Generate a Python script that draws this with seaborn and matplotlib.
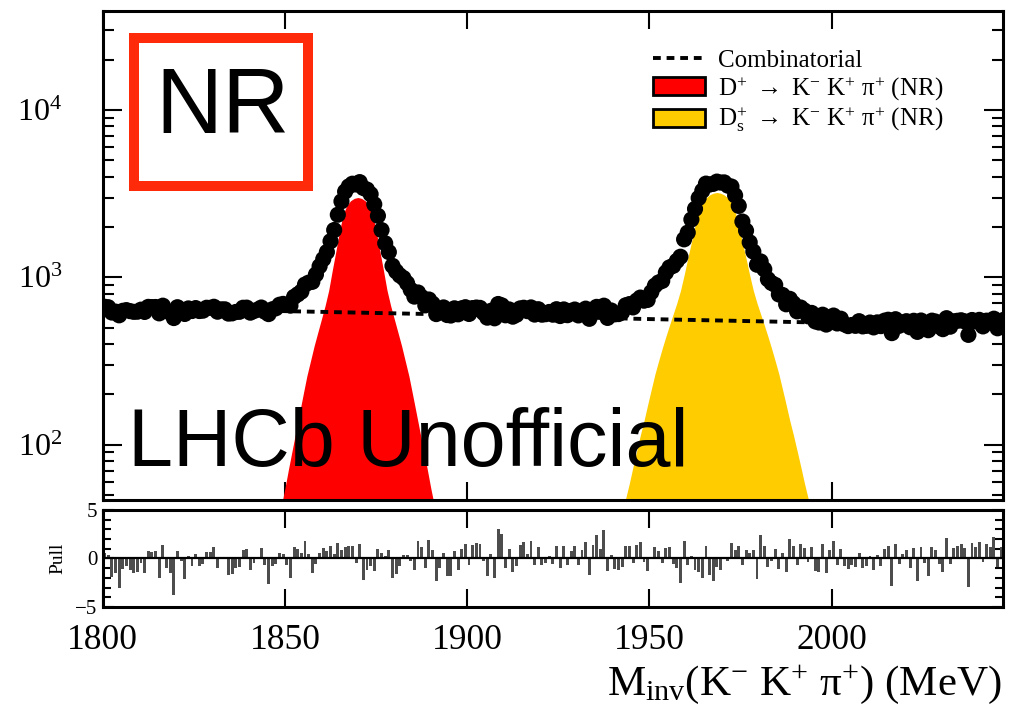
import numpy as np
import pandas as pd
import matplotlib
matplotlib.use('Agg')
import matplotlib.pyplot as plt
import seaborn as sns
from matplotlib.patches import Rectangle, Patch
from matplotlib.lines import Line2D
from matplotlib.ticker import FixedLocator, LogLocator, NullFormatter, MultipleLocator

# --- data (1 MeV bins, 1800-2047 MeV) ---
bin_centres = np.arange(1800.5, 2047.6, 1.0)

candidates = [
    667, 663, 616, 624, 593, 631, 637, 628, 622, 623,
    641, 621, 666, 664, 665, 609, 677, 628, 618, 571,
    663, 641, 604, 652, 629, 655, 629, 632, 658, 657,
    667, 623, 644, 644, 607, 609, 621, 622, 658, 659,
    615, 629, 642, 660, 623, 603, 644, 653, 686, 694,
    684, 677, 764, 791, 822, 906, 930, 940, 1040, 1165,
    1285, 1417, 1644, 1918, 2368, 2846, 3255, 3495, 3628, 3590,
    3709, 3419, 3349, 3143, 2733, 2333, 1917, 1598, 1415, 1172,
    1085, 1027, 990, 923, 843, 767, 812, 762, 680, 737,
    696, 603, 627, 661, 595, 591, 653, 601, 653, 663,
    604, 655, 660, 657, 613, 574, 631, 569, 693, 680,
    593, 643, 582, 597, 652, 658, 628, 661, 599, 645,
    598, 602, 621, 598, 645, 587, 643, 594, 630, 642,
    592, 630, 650, 565, 642, 666, 630, 677, 572, 634,
    601, 603, 618, 681, 692, 661, 726, 757, 725, 733,
    815, 892, 932, 952, 1068, 1147, 1171, 1253, 1328, 1687,
    1851, 2216, 2566, 2980, 3294, 3633, 3587, 3621, 3735, 3684,
    3695, 3533, 3490, 3089, 2673, 2155, 1901, 1619, 1426, 1189,
    1245, 1118, 974, 925, 901, 790, 785, 690, 744, 699,
    626, 660, 634, 585, 613, 545, 537, 598, 522, 574,
    591, 530, 566, 523, 511, 519, 513, 547, 509, 513,
    537, 502, 538, 511, 551, 558, 464, 562, 513, 537,
    547, 503, 550, 472, 552, 513, 483, 551, 544, 508,
    490, 570, 507, 546, 550, 554, 545, 453, 556, 545,
    557, 509, 551, 544, 566, 496, 543, 561,
]

pulls = [
    0.6, 0.4, -1.9, -1.5, -3.0, -1.1, -0.8, -1.2, -1.5, -1.4,
    -0.5, -1.5, 0.8, 0.7, 0.8, -2.0, 1.4, -1.0, -1.5, -3.8,
    0.8, -0.3, -2.1, 0.3, -0.8, 0.5, -0.8, -0.6, 0.7, 0.7,
    1.2, -1.0, 0.1, 0.1, -1.7, -1.6, -1.0, -0.9, 0.9, 1.0,
    -1.2, -0.5, 0.2, 1.1, -0.7, -2.6, -0.8, -0.6, 0.6, 0.5,
    -0.7, -2.0, 1.2, 1.0, 0.6, 1.8, 0.5, -1.5, -0.6, 0.6,
    1.1, 0.8, 1.3, 0.5, 1.6, 0.9, 1.2, 1.3, 1.3, -0.5,
    1.5, -2.2, -1.2, -0.8, -1.3, 1.0, 0.6, 0.3, 0.9, -2.0,
    -1.6, -0.8, 0.4, 0.4, -0.3, -1.2, 1.8, 1.2, -1.0, 1.9,
    0.9, -2.3, -1.0, 0.6, -1.8, -1.8, 0.8, -1.2, 1.0, 1.5,
    -0.7, 1.4, 1.6, 1.5, -0.3, -1.8, 0.5, -2.0, 3.0, 2.5,
    -1.0, 1.0, -1.4, -0.8, 1.4, 1.7, 0.5, 1.8, -0.7, 1.2,
    -0.7, -0.5, 0.3, -0.6, 1.3, -1.0, 1.3, -0.7, 0.8, 1.3,
    -0.7, 0.9, 1.7, -1.7, 1.4, 2.4, 1.0, 2.9, -1.3, 0.4,
    -1.1, -1.2, -0.9, 1.3, 1.3, -0.5, 1.4, 1.7, -0.4, -1.3,
    0.2, 1.2, 0.8, -0.5, 1.1, 1.2, -0.6, -1.0, -2.5, 1.8,
    -0.7, 0.3, -1.2, -1.4, -2.0, 1.3, -1.7, -2.3, -0.9, -1.2,
    0.2, -0.3, 1.6, 0.9, 1.3, -0.7, 0.9, 0.6, 0.9, -2.1,
    2.4, 1.3, -0.9, -0.3, 1.0, -1.1, 0.6, -1.4, 2.0, 1.3,
    -0.7, 1.5, 1.1, -0.4, 1.2, -1.3, -1.4, 1.5, -1.5, 0.9,
    1.8, -0.7, 1.0, -0.8, -1.1, -0.7, -0.9, 0.6, -1.0, -0.8,
    0.3, -1.2, 0.4, -0.8, 1.0, 1.3, -2.8, 1.5, -0.6, 0.5,
    0.9, -1.0, 1.1, -2.3, 1.2, -0.5, -1.8, 1.2, 0.9, -0.6,
    -1.4, 2.1, -0.6, 1.1, 1.3, 1.5, 1.1, -2.9, 1.6, 1.2,
    1.7, -0.4, 1.5, 1.2, 2.2, -0.9, 1.2, 2.0,
]

# combinatorial background (dashed line)
comb_mass = [1800, 1850, 1900, 1950, 2000, 2047]
comb_yield = [662, 628, 597, 563, 535, 505]

# D+ -> K- K+ pi+ (NR) component
dplus_mass = np.arange(1846.0, 1894.1, 1.0)
dplus_curve = [
    20, 26, 33, 43, 55, 72, 93, 120, 155, 200, 257, 316, 389, 468, 562, 676,
    836, 1107, 1445, 1905, 2400, 2690, 2870, 2965, 3000, 2965, 2870, 2690,
    2400, 1905, 1445, 1107, 836, 676, 562, 468, 389, 316, 257, 200, 155, 120,
    93, 72, 55, 43, 33, 26, 20,
]

# Ds+ -> K- K+ pi+ (NR) component
ds_mass = np.arange(1939.5, 1997.6, 1.0)
ds_curve = [
    20, 25, 31, 38, 48, 59, 74, 92, 114, 139, 173, 214, 264, 316, 376, 443,
    518, 603, 701, 832, 1030, 1297, 1620, 2040, 2470, 2825, 2980, 3110, 3185,
    3215, 3185, 3110, 2980, 2825, 2470, 2040, 1620, 1297, 1030, 832, 701, 603,
    518, 443, 376, 316, 264, 214, 173, 139, 114, 92, 74, 59, 48, 38, 31, 25, 20,
]

df = pd.DataFrame({'mass': bin_centres, 'candidates': candidates})
pf = pd.DataFrame({'mass': bin_centres, 'pull': pulls})

sns.set_style('ticks')
plt.rcParams['font.family'] = ['Liberation Serif', 'DejaVu Serif']
plt.rcParams['mathtext.fontset'] = 'custom'
plt.rcParams['mathtext.rm'] = 'Liberation Serif'
plt.rcParams['mathtext.it'] = 'Liberation Serif:italic'
plt.rcParams['mathtext.bf'] = 'Liberation Serif:bold'
plt.rcParams['mathtext.default'] = 'regular'
for key in ['text.color', 'axes.labelcolor', 'xtick.color', 'ytick.color']:
    plt.rcParams[key] = 'black'

fig = plt.figure(figsize=(10.15, 7.12), dpi=100)
ax = fig.add_axes([0.1012, 0.2978, 0.887, 0.6868])
axp = fig.add_axes([0.1012, 0.1475, 0.887, 0.1362])

ax.fill_between(dplus_mass, dplus_curve, 1, color='#ff0000', lw=0, zorder=1)
ax.fill_between(ds_mass, ds_curve, 1, color='#ffcc00', lw=0, zorder=1)
ax.plot(comb_mass, comb_yield, color='black', ls=(0, (2, 1.5)), lw=2.8, zorder=2)
sns.scatterplot(data=df, x='mass', y='candidates', color='black', s=135,
                edgecolor='none', ax=ax, zorder=3, legend=False)
ax.set_yscale('log')
ax.set_xlim(1800, 2047)
ax.set_ylim(46.7, 39100)
ax.set_xlabel('')
ax.set_ylabel('')

sns.barplot(data=pf, x='mass', y='pull', native_scale=True, width=0.8,
            color='#4d4d4d', saturation=1, errorbar=None, linewidth=0, ax=axp)
axp.axhline(0, color='black', lw=1.6, zorder=5)
axp.set_xlim(1800, 2047)
axp.set_ylim(-5, 5)
axp.set_xlabel('')
axp.set_ylabel('Pull', fontsize=14, labelpad=6)

for a in (ax, axp):
    for s in a.spines.values():
        s.set_linewidth(2.2)
        s.set_color('black')
    a.xaxis.set_major_locator(FixedLocator([1800, 1850, 1900, 1950, 2000]))
    a.tick_params(which='both', direction='in', top=True, right=True,
                  width=1.5, color='black')
    a.tick_params(axis='x', which='major', length=13)

ax.tick_params(labelbottom=False)
ax.yaxis.set_major_locator(LogLocator(base=10))
ax.yaxis.set_minor_locator(LogLocator(base=10, subs=np.arange(2, 10)))
ax.yaxis.set_minor_formatter(NullFormatter())
ax.tick_params(axis='y', which='major', length=14, labelsize=23, pad=29)
ax.tick_params(axis='y', which='minor', length=8)

axp.yaxis.set_major_locator(FixedLocator([-5, 0, 5]))
axp.yaxis.set_minor_locator(MultipleLocator(1))
axp.tick_params(axis='y', which='major', length=8, labelsize=15, pad=4)
axp.tick_params(axis='y', which='minor', length=6)
axp.tick_params(axis='x', labelsize=25.5, pad=12)

# NR box
ax.add_patch(Rectangle((0.0348, 0.6421), 0.1932, 0.3027, transform=ax.transAxes,
                       fill=False, edgecolor='#ff2a0a', lw=7.2, joinstyle='miter',
                       zorder=6))
ax.text(0.1327, 0.8, 'NR', transform=ax.transAxes, ha='center', va='center',
        fontsize=67, color='black', family=['Liberation Sans', 'DejaVu Sans'], zorder=7)
ax.text(0.028, 0.0695, 'LHCb Unofficial', transform=ax.transAxes, ha='left',
        va='baseline', fontsize=58.2, color='black',
        family=['Liberation Sans', 'DejaVu Sans'], zorder=7)

handles = [
    Line2D([], [], color='black', ls=(0, (2, 1.5)), lw=2.8),
    Patch(facecolor='#ff0000', edgecolor='black', lw=2),
    Patch(facecolor='#ffcc00', edgecolor='black', lw=2),
]
labels = [
    'Combinatorial',
    r'D$^{+}$ $\rightarrow$ K$^{-}$ K$^{+}$ π$^{+}$ (NR)',
    r'D$_{s}^{+}$ $\rightarrow$ K$^{-}$ K$^{+}$ π$^{+}$ (NR)',
]
ax.legend(handles, labels, loc='upper left', bbox_to_anchor=(0.611, 0.922),
          frameon=False, fontsize=18, handlelength=2.1, handleheight=0.73,
          handletextpad=0.5, labelspacing=0.12, borderpad=0, borderaxespad=0)

fig.text(0.987, 0.0239, r'M$_{inv}$(K$^{-}$ K$^{+}$ π$^{+}$) (MeV)', ha='right',
         va='baseline', fontsize=31)

fig.savefig('out.png', dpi=100)
